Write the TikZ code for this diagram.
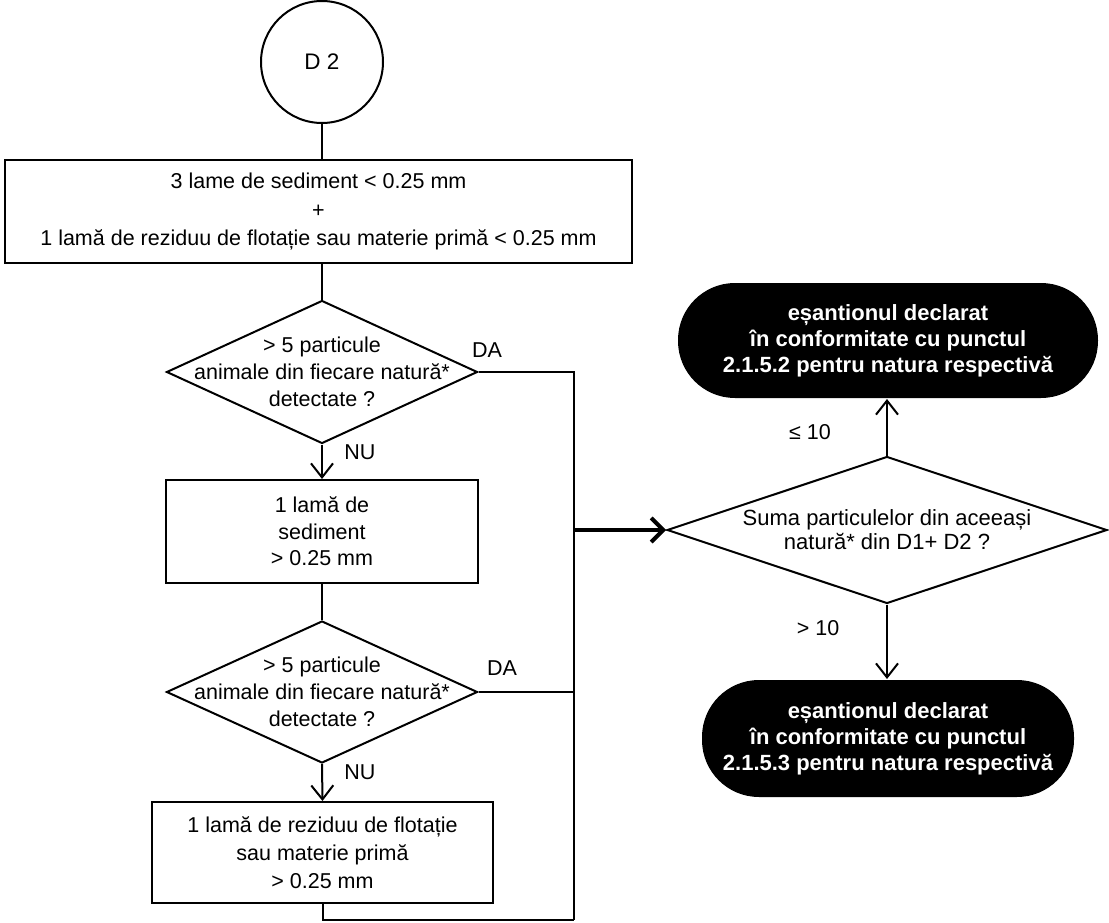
\documentclass[tikz,border=0pt]{standalone}
\usepackage{fontspec}
\setmainfont{Liberation Sans}
\usetikzlibrary{arrows.meta,shapes.geometric}
\begin{document}
\begin{tikzpicture}[x=1pt,y=-1pt,
  line width=2pt,
  txt/.style={font=\fontsize{21.5}{27}\selectfont, align=center},
  box/.style={draw, rectangle, inner sep=0pt, txt},
  dec/.style={draw, diamond, inner sep=0pt},
  term/.style={fill=black, rectangle, rounded corners=57pt, inner sep=0pt, text=white, font=\bfseries\fontsize{22}{26}\selectfont, align=center},
  arr/.style={-{Straight Barb[length=14pt,width=22pt,line width=2pt]}},
  thickarr/.style={line width=4pt,-{Straight Barb[length=12pt,width=24pt,line width=4pt]}},
  lbl/.style={font=\fontsize{21.5}{24}\selectfont}
]
\useasboundingbox (0,0) rectangle (1109,923);

% start
\node[draw, circle, minimum size=122pt, inner sep=0pt, txt, font=\fontsize{22.5}{27}\selectfont] (d2) at (322,62) {D 2};

% boxes
\node[box, minimum width=627pt, minimum height=103pt, font=\fontsize{21.5}{28.5}\selectfont] (b1) at (318.5,211.5)
  {3 lame de sediment < 0.25 mm\\+\\1 lamă de reziduu de flotație sau materie primă < 0.25 mm};
\node[box, minimum width=312pt, minimum height=103pt, font=\fontsize{21.5}{26.5}\selectfont] (b2) at (322,531.5)
  {1 lamă de\\sediment\\> 0.25 mm};
\node[box, minimum width=341pt, minimum height=101pt, font=\fontsize{21.5}{28}\selectfont] (b3) at (322.5,852.5)
  {1 lamă de reziduu de flotație\\sau materie primă\\> 0.25 mm};

% decisions
\node[dec, minimum width=311pt, minimum height=143pt] (q1) at (322,372) {};
\node[txt] (q1t) at (q1) {> 5 particule\\animale din fiecare natură*\\detectate ?};
\node[dec, minimum width=311pt, minimum height=142pt] (q2) at (322,692) {};
\node[txt] (q2t) at (q2) {> 5 particule\\animale din fiecare natură*\\detectate ?};
\node[dec, minimum width=440pt, minimum height=147pt] (q3) at (887,530) {};
\node[txt, font=\fontsize{22}{24}\selectfont] (q3t) at (q3) {Suma particulelor din aceeași\\natură* din D1+ D2 ?};

% terminals
\node[term, minimum width=420pt, minimum height=115pt] (t1) at (888,340.5)
  {eșantionul declarat\\în conformitate cu punctul\\2.1.5.2 pentru natura respectivă};
\node[term, minimum width=372pt, minimum height=117pt] (t2) at (888,738.5)
  {eșantionul declarat\\în conformitate cu punctul\\2.1.5.3 pentru natura respectivă};

% labels
\node[lbl] (da1) at (487,350) {DA};
\node[lbl] (nu1) at (360,452) {NU};
\node[lbl] (da2) at (502,668) {DA};
\node[lbl] (nu2) at (360,772) {NU};
\node[lbl] (le) at (810,432) {≤ 10};
\node[lbl] (gt) at (818,628) {> 10};

% connector coordinates
\coordinate (r1) at (574,372);
\coordinate (r2) at (574,692);
\coordinate (rm) at (574,530);
\coordinate (rb) at (574,920);

% connectors
\draw (d2.south) -- (d2.south |- b1.north);
\draw (d2.south |- b1.south) -- (q1.north);
\draw[arr] (q1.south) -- (b2.north);
\draw (b2.south) -- (q2.north);
\draw[arr] (q2.south) -- (b3.north);
\draw (q1.east) -- (r1) -- (rb);
\draw (q2.east) -- (r2);
\draw (b3.south) -- (b3.south |- rb) -- (rb);
\draw[thickarr] (rm) -- (q3.west);
\draw[arr] (q3.north) -- (q3.north |- t1.south);
\draw[arr] (q3.south) -- (q3.south |- t2.north);
\end{tikzpicture}
\end{document}
